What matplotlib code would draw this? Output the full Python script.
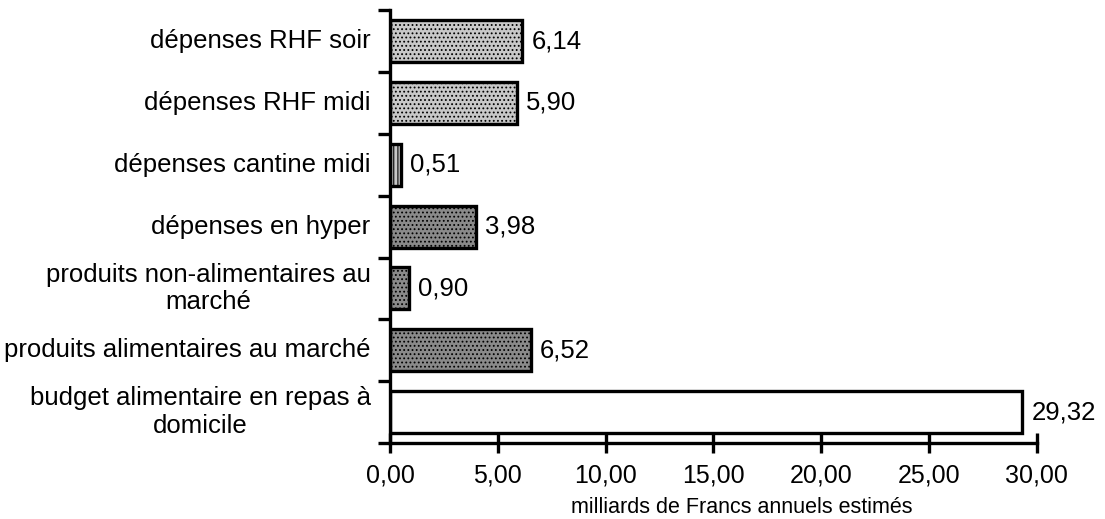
import matplotlib
matplotlib.use("Agg")
import matplotlib.pyplot as plt

plt.rcParams['font.family'] = ['Liberation Sans', 'DejaVu Sans']
plt.rcParams['hatch.linewidth'] = 0.8

categories = [
    "budget alimentaire en repas à\ndomicile",
    "produits alimentaires au marché",
    "produits non-alimentaires au\nmarché",
    "dépenses en hyper",
    "dépenses cantine midi",
    "dépenses RHF midi",
    "dépenses RHF soir",
]
values = [29.32, 6.52, 0.90, 3.98, 0.51, 5.90, 6.14]
value_labels = ["29,32", "6,52", "0,90", "3,98", "0,51", "5,90", "6,14"]
xticks = [0, 5, 10, 15, 20, 25, 30]
xtick_labels = ["0,00", "5,00", "10,00", "15,00", "20,00", "25,00", "30,00"]

faces = ["white", "#8a8a8a", "#8a8a8a", "#8a8a8a", "#c8c8c8", "#c8c8c8", "#c8c8c8"]
hatches = [None, "....", "....", "....", "||||", "....", "...."]

fig = plt.figure(figsize=(11.05, 5.19), dpi=100)
ax = fig.add_axes([0.3529, 0.1464, 0.5855, 0.834])

ys = list(range(len(categories)))
for y, v, fc, h, lab in zip(ys, values, faces, hatches, value_labels):
    ax.barh(y, v, height=0.68, color=fc, edgecolor="black", linewidth=2.4,
            hatch=h)
    ax.text(v + 0.42, y, lab, va="center", ha="left", fontsize=18.5)

ax.set_xlim(0, 30)
ax.set_ylim(-0.5, len(categories) - 0.5)

for s in ["top", "right"]:
    ax.spines[s].set_visible(False)
ax.spines["left"].set_linewidth(2.4)
ax.spines["bottom"].set_linewidth(2.4)

ax.set_xticks(xticks)
ax.set_xticklabels(xtick_labels, fontsize=18)
ax.tick_params(axis="x", direction="inout", length=14, width=2.4, pad=8)

# category names sit between boundary ticks
ax.set_yticks([y - 0.5 for y in ys] + [len(categories) - 0.5])
ax.set_yticklabels([])
ax.tick_params(axis="y", direction="out", length=9, width=2.4)
for y, name in zip(ys, categories):
    ax.text(-0.9, y, name, ha="right", va="center", fontsize=18.5,
            multialignment="center", linespacing=1.2)

ax.set_xlabel("milliards de Francs annuels estimés", fontsize=15.5)
ax.xaxis.set_label_coords(0.544, -0.125)

fig.savefig("out.png", dpi=100)
